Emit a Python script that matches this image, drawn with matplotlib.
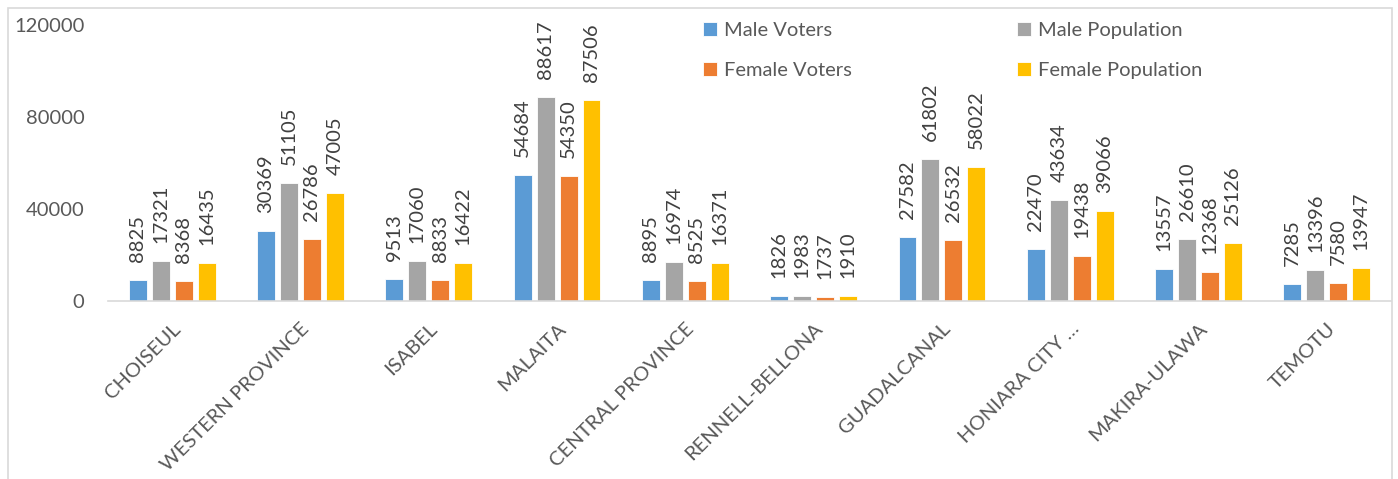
import matplotlib.pyplot as plt
import numpy as np
from matplotlib.patches import Rectangle

plt.rcParams['font.family'] = ['Lato', 'DejaVu Sans']

provinces = ["CHOISEUL", "WESTERN PROVINCE", "ISABEL", "MALAITA", "CENTRAL PROVINCE",
             "RENNELL-BELLONA", "GUADALCANAL", "HONIARA CITY …", "MAKIRA-ULAWA", "TEMOTU"]
male_voters = [8825, 30369, 9513, 54684, 8895, 1826, 27582, 22470, 13557, 7285]
male_pop = [17321, 51105, 17060, 88617, 16974, 1983, 61802, 43634, 26610, 13396]
female_voters = [8368, 26786, 8833, 54350, 8525, 1737, 26532, 19438, 12368, 7580]
female_pop = [16435, 47005, 16422, 87506, 16371, 1910, 58022, 39066, 25126, 13947]

series = [("Male Voters", male_voters, "#5B9BD5"),
          ("Male Population", male_pop, "#A5A5A5"),
          ("Female Voters", female_voters, "#ED7D31"),
          ("Female Population", female_pop, "#FFC000")]

W, H = 1398, 479
fig = plt.figure(figsize=(W / 100, H / 100), dpi=100)
ax = fig.add_axes([108 / W, 1 - 300.5 / H, (1391 - 108) / W, (300.5 - 25) / H])

x = np.arange(len(provinces))
pitch = 0.179
width = 0.14
bars = {}
for i, (name, vals, col) in enumerate(series):
    pos = x + (i - 1.5) * pitch
    bars[name] = ax.bar(pos, vals, width, color=col, edgecolor="white", linewidth=0.6, label=name)
    for p, v in zip(pos, vals):
        ax.annotate(str(v), (p, v), xytext=(0, 18), textcoords="offset pixels",
                    rotation=90, ha="center", va="bottom", fontsize=14.5, color="#404040")

ax.set_xlim(-0.5, len(provinces) - 0.5)
ax.set_ylim(0, 120000)
ax.set_yticks([0, 40000, 80000, 120000])
ax.set_yticklabels(["0", "40000", "80000", "120000"])
ax.set_xticks(x)
ax.set_xticklabels(provinces, rotation=45, ha="right", rotation_mode="anchor")
ax.tick_params(axis="both", length=0, labelsize=14.5, labelcolor="#595959")
ax.tick_params(axis="y", pad=17)
ax.tick_params(axis="x", pad=14)
for s in ["top", "right", "left"]:
    ax.spines[s].set_visible(False)
ax.spines["bottom"].set_color("#d9d9d9")
ax.spines["bottom"].set_linewidth(1.2)

handles = [bars["Male Voters"], bars["Female Voters"], bars["Male Population"], bars["Female Population"]]
labels = ["Male Voters", "Female Voters", "Male Population", "Female Population"]
leg = fig.legend(handles, labels, ncol=2, loc="upper left", bbox_to_anchor=(703 / W, 1 - 22 / H),
                 frameon=False, fontsize=14.5, handlelength=0.7, handleheight=0.65,
                 handletextpad=0.35, columnspacing=8.2, labelspacing=1.15, borderpad=0,
                 borderaxespad=0)
for t in leg.get_texts():
    t.set_color("#595959")

fig.patches.append(Rectangle((8 / W, -0.1), (1392 - 8) / W, 1.1 - 8 / H, transform=fig.transFigure,
                             fill=False, edgecolor="#d9d9d9", linewidth=1.2))

fig.savefig("out.png", dpi=100)
